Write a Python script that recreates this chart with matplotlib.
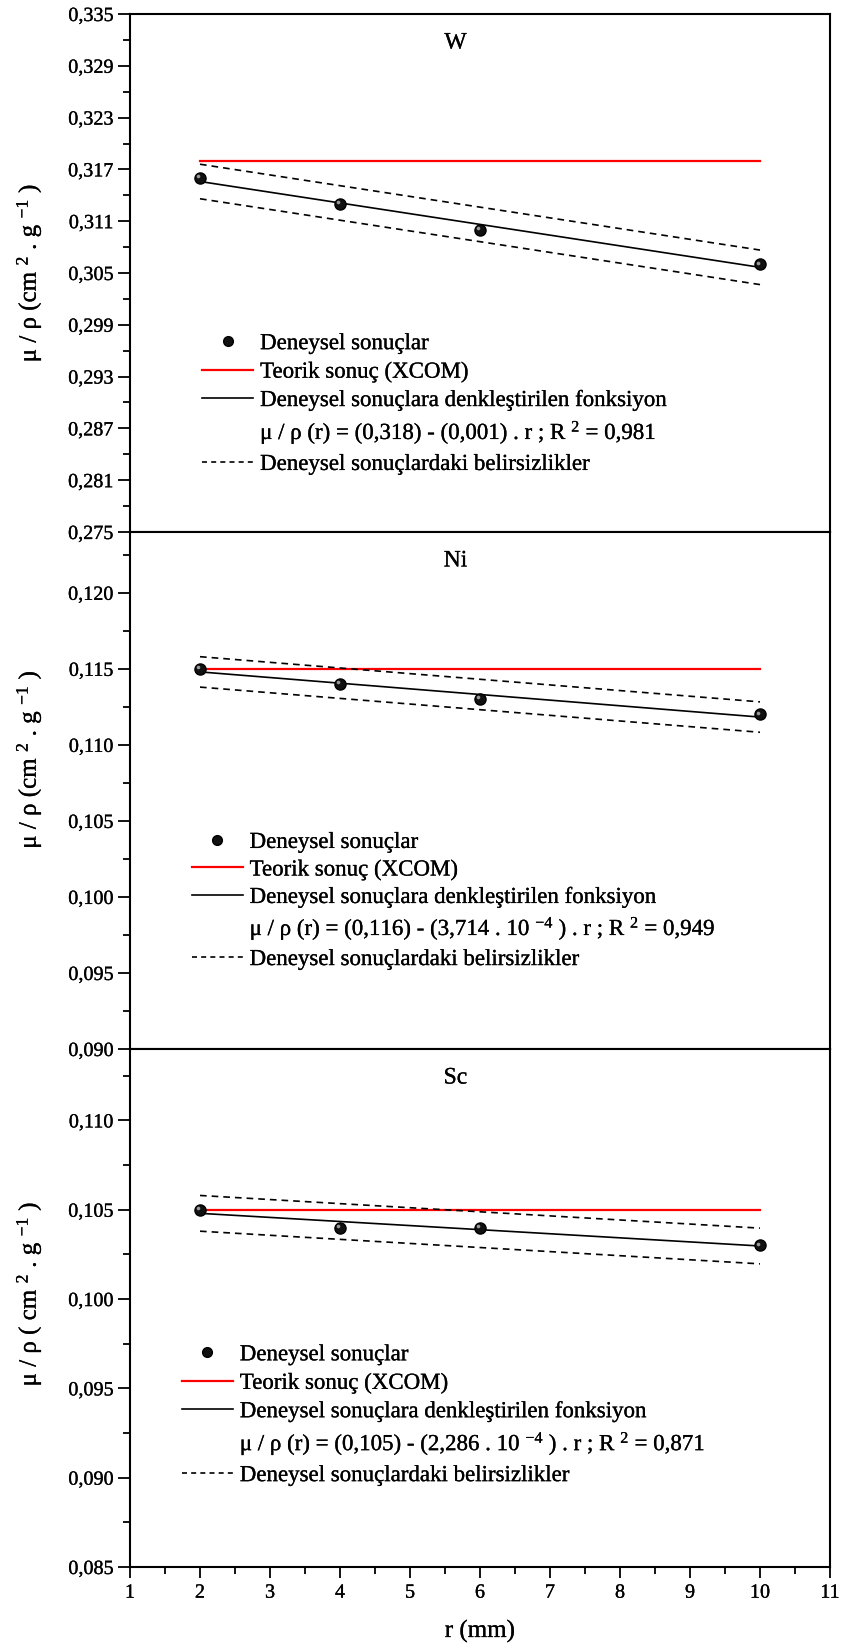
import numpy as np
import matplotlib
matplotlib.use("Agg")
import matplotlib.pyplot as plt
from matplotlib.lines import Line2D
from matplotlib.ticker import FixedLocator, FuncFormatter
import matplotlib.transforms as mtrans
import matplotlib.patheffects as pe

plt.rcParams['font.family'] = 'serif'
plt.rcParams['font.serif'] = ['Liberation Serif', 'Times New Roman', 'Nimbus Roman',
                              'DejaVu Serif']
plt.rcParams['mathtext.default'] = 'regular'

# ---- data ----
r_mm = [2, 4, 6, 10]
elements = ["W", "Ni", "Sc"]
mu_W = [0.316, 0.313, 0.310, 0.306]
mu_Ni = [0.115, 0.114, 0.113, 0.112]
mu_Sc = [0.105, 0.104, 0.104, 0.103]
xcom_W = 0.318
xcom_Ni = 0.115
xcom_Sc = 0.105
band_W = 0.002
band_Ni = 0.001
band_Sc = 0.001
eq_W = r"μ / ρ (r) = (0,318) - (0,001) . r ; R $^{2}$ = 0,981"
eq_Ni = r"μ / ρ (r) = (0,116) - (3,714 . 10 $^{-4}$ ) . r ; R $^{2}$ = 0,949"
eq_Sc = r"μ / ρ (r) = (0,105) - (2,286 . 10 $^{-4}$ ) . r ; R $^{2}$ = 0,871"
ylabels = [r"μ / ρ (cm $^{2}$ . g $^{-1}$ )",
           r"μ / ρ (cm $^{2}$ . g $^{-1}$ )",
           r"μ / ρ ( cm $^{2}$ . g $^{-1}$ )"]
ylims = [(0.275, 0.335), (0.090, 0.124), (0.085, 0.114)]
ymajor = [0.006, 0.005, 0.005]
xticks = list(range(1, 12))
leg_labels = ["Deneysel sonuçlar", "Teorik sonuç (XCOM)",
              "Deneysel sonuçlara denkleştirilen fonksiyon", None,
              "Deneysel sonuçlardaki belirsizlikler"]

mus = [mu_W, mu_Ni, mu_Sc]
xcoms = [xcom_W, xcom_Ni, xcom_Sc]
bands = [band_W, band_Ni, band_Sc]
eqs = [eq_W, eq_Ni, eq_Sc]
leg_anchor = [(0.103, 0.384), (0.088, 0.420), (0.074, 0.430)]
leg_spacing = [0.32, 0.28, 0.32]
ylab_y = [0.5, 0.56, 0.527]

fig = plt.figure(figsize=(8.42, 16.5), dpi=100)
left = 130 / 842
width = 700 / 842
tops_px = [14, 532, 1049]
bots_px = [532, 1049, 1567]

FS = 14.5
thick = [pe.withStroke(linewidth=0.2, foreground='black')]

def fmt(v, pos):
    return f"{v:.3f}".replace(".", ",")

for i in range(3):
    b = 1 - bots_px[i] / 1650
    h = (bots_px[i] - tops_px[i]) / 1650
    ax = fig.add_axes([left, b, width, h])
    x = np.array(r_mm, dtype=float)
    y = np.array(mus[i])
    k, c = np.polyfit(x, y, 1)
    xs = np.array([x[0], x[-1]])
    fit = c + k * xs
    ax.plot(xs, [xcoms[i]] * 2, color='#ff0000', lw=1.6, zorder=3)
    ax.plot(xs, fit, color='black', lw=1.2, zorder=3)
    ax.plot(xs, fit + bands[i], color='black', lw=1.2, ls=(0, (4, 3)), zorder=3)
    ax.plot(xs, fit - bands[i], color='black', lw=1.2, ls=(0, (4, 3)), zorder=3)
    ax.plot(x, y, ls='none', marker='o', ms=8, mfc='#111111', mec='#000000', zorder=4)
    off = mtrans.ScaledTranslation(-1.3 / 72, 1.3 / 72, fig.dpi_scale_trans)
    ax.plot(x, y, ls='none', marker='o', ms=2.6, mfc='#9a9a9a', mec='none', zorder=5,
            transform=ax.transData + off)

    lo, hi = ylims[i]
    ax.set_xlim(1, 11)
    ax.set_ylim(lo, hi)
    n_major = int(round((hi - lo) / ymajor[i])) + 1
    majors = [lo + ymajor[i] * j for j in range(n_major) if lo + ymajor[i] * j <= hi + 1e-9]
    minors = [lo + ymajor[i] / 2 * j for j in range(2 * n_major + 1)
              if lo + ymajor[i] / 2 * j <= hi + 1e-9]
    ax.yaxis.set_major_locator(FixedLocator(majors))
    ax.yaxis.set_minor_locator(FixedLocator(minors))
    ax.yaxis.set_major_formatter(FuncFormatter(fmt))
    ax.tick_params(axis='y', which='major', direction='out', length=9, width=1.3,
                   labelsize=FS, pad=3)
    ax.tick_params(axis='y', which='minor', direction='out', length=5, width=1.3)
    for s in ax.spines.values():
        s.set_linewidth(1.5)
    if i < 2:
        ax.tick_params(axis='x', which='both', bottom=False, labelbottom=False)
    else:
        ax.set_xticks(xticks)
        ax.set_xticks([v + 0.5 for v in xticks[:-1]], minor=True)
        ax.tick_params(axis='x', which='major', direction='out', length=8, width=1.3,
                       labelsize=FS, pad=4)
        ax.tick_params(axis='x', which='minor', direction='out', length=5, width=1.3)
        ax.set_xlabel("r (mm)", fontsize=18, labelpad=12, path_effects=thick)
    for t in ax.get_yticklabels() + ax.get_xticklabels():
        t.set_path_effects(thick)
    ax.set_ylabel(ylabels[i], fontsize=18, path_effects=thick)
    ax.yaxis.set_label_coords(-0.124, ylab_y[i])
    ax.text(0.465, 0.944, elements[i], transform=ax.transAxes, ha='center', va='center',
            fontsize=17, path_effects=thick)

    handles = [
        Line2D([], [], ls='none', marker='o', ms=7, mfc='#111111', mec='black'),
        Line2D([], [], color='#ff0000', lw=1.6),
        Line2D([], [], color='black', lw=1.2),
        Line2D([], [], color='none', lw=0),
        Line2D([], [], color='black', lw=1.2, ls=(0, (3, 2.5))),
    ]
    labels = list(leg_labels)
    labels[3] = eqs[i]
    leg = ax.legend(handles, labels, loc='upper left', bbox_to_anchor=leg_anchor[i],
                    frameon=False, fontsize=16.5, borderpad=0, borderaxespad=0,
                    handlelength=2.23, handletextpad=0.3, labelspacing=leg_spacing[i])
    for t in leg.get_texts():
        t.set_path_effects(thick)

fig.savefig("out.png", dpi=100)
